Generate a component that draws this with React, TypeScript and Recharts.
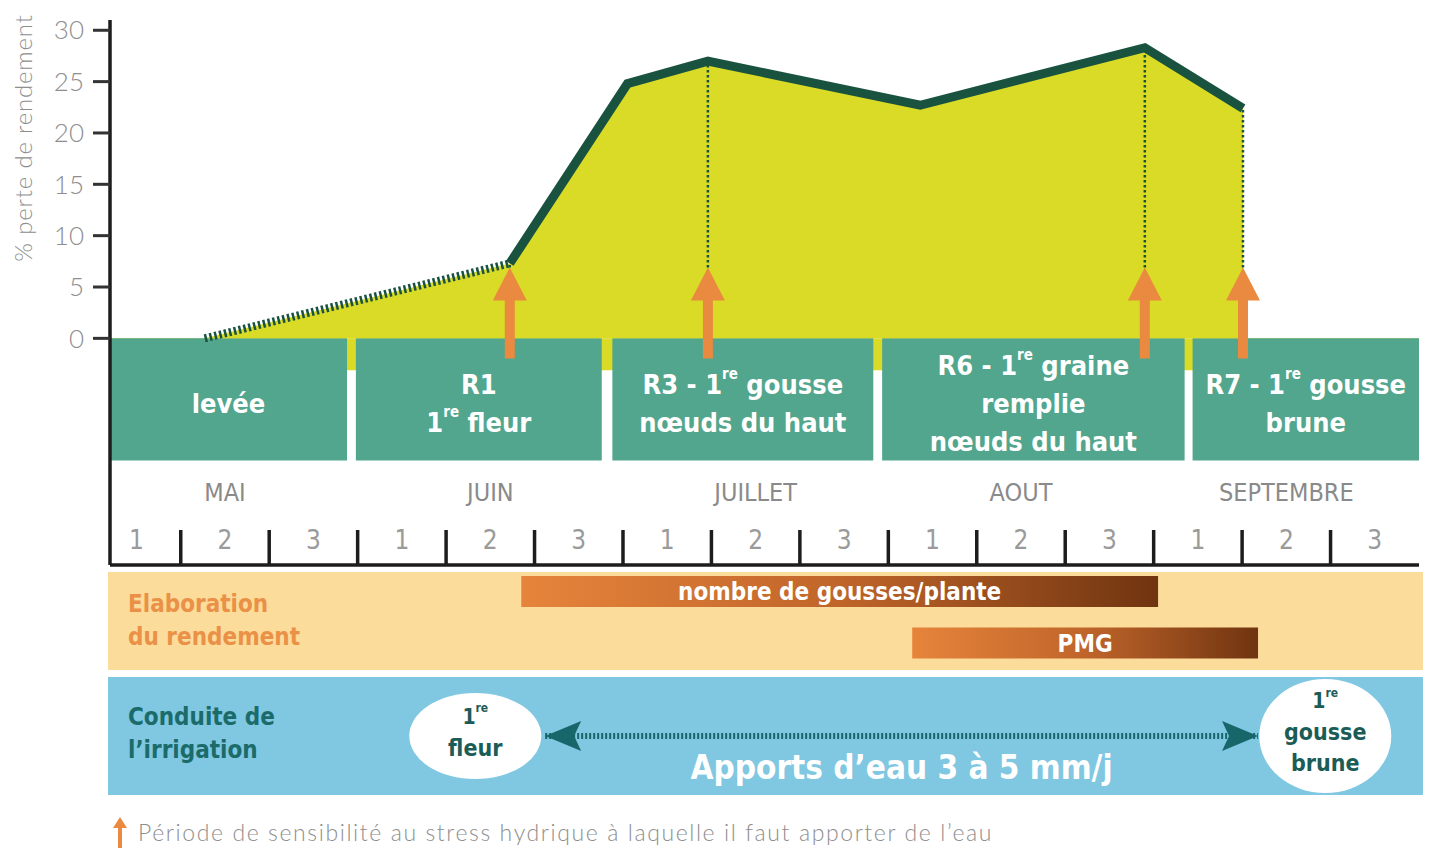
import React from "react";
import {
  Area,
  Bar,
  BarChart,
  ComposedChart,
  LabelList,
  Line,
  ReferenceArea,
  ReferenceDot,
  ReferenceLine,
  Scatter,
  XAxis,
  YAxis,
} from "recharts";

const NARROW = "'Liberation Sans Narrow', 'DejaVu Sans Condensed', Roboto, sans-serif";
const LIGHT = "Lato, 'Open Sans', sans-serif";

const DARK_GREEN = "#19533f";
const YELLOW = "#dadb26";
const TEAL = "#52a68d";
const ORANGE = "#ea8a40";
const IRRIG = "#17666a";

// x is counted in decades (10-day periods) from 1 May
const X_DOMAIN: [number, number] = [0.2, 15];
const months = ["MAI", "JUIN", "JUILLET", "AOUT", "SEPTEMBRE"];
const decades = ["1", "2", "3"];
const lossTicks = [0, 5, 10, 15, 20, 25, 30];

// yield loss curve (% perte de rendement)
const stageX = [1.27, 4.72, 6.05, 6.96, 9.36, 11.9, 13.01];
const yieldLoss = [0, 7.3, 24.8, 27, 22.7, 28.3, 22.4];
const hatchedUntil = 1; // first segment is drawn hatched
const stressPoints = [1, 3, 5, 6];
const arrowTip = 6.9;

// development stages
const phaseLabels = [
  ["levée"],
  ["R1", "1{re} fleur"],
  ["R3 - 1{re} gousse", "nœuds du haut"],
  ["R6 - 1{re} graine", "remplie", "nœuds du haut"],
  ["R7 - 1{re} gousse", "brune"],
];
const phaseStart = [0.2, 2.98, 5.88, 8.93, 12.44];
const phaseEnd = [2.88, 5.76, 8.83, 12.35, 15];

// yield components
const components = ["nombre de gousses/plante", "PMG"];
const componentStart = [4.85, 9.27];
const componentEnd = [12.05, 13.18];

// irrigation
const irrigationFrom = 5.12;
const irrigationTo = 13.18;
const irrigationText = "Apports d’eau 3 à 5 mm/j";
const irrigationMarkX = [4.33, 13.94];
const irrigationMarkLabels = [
  ["1{re}", "fleur"],
  ["1{re}", "gousse", "brune"],
];

const curve = stageX.map((x, i) => ({
  x,
  fill: yieldLoss[i],
  hatch: i <= hatchedUntil ? yieldLoss[i] : null,
  loss: i >= hatchedUntil ? yieldLoss[i] : null,
}));
const arrows = stressPoints.map((i) => ({ x: stageX[i], tip: arrowTip, top: yieldLoss[i] }));
const xTicks = Array.from({ length: 29 }, (_, i) => 0.5 + i * 0.5);
const componentRows = components.map((name, i) => ({
  name,
  span: [componentStart[i], componentEnd[i]],
}));
const irrigationLine = [
  { x: irrigationFrom, y: 0.5 },
  { x: irrigationTo, y: 0.5 },
];
const irrigationHeads = [
  { x: irrigationFrom, y: 0.5, dir: -1 },
  { x: irrigationTo, y: 0.5, dir: 1 },
];
const irrigationMarks = irrigationMarkX.map((x, i) => ({
  x,
  y: 0.5,
  lines: irrigationMarkLabels[i],
}));

// "1{re}" -> 1 + superscript re
function rich(s: string, sup: number) {
  const parts = s.split(/\{(.*?)\}/);
  const out: React.ReactNode[] = [];
  let raised = false;
  parts.forEach((p, i) => {
    if (i % 2 === 1) {
      out.push(
        <tspan key={i} fontSize={sup} dy={-sup * 0.7}>
          {p}
        </tspan>
      );
      raised = true;
    } else if (p) {
      out.push(
        <tspan key={i} dy={raised ? sup * 0.7 : 0}>
          {p}
        </tspan>
      );
      raised = false;
    }
  });
  return out;
}

const PhaseText = ({ viewBox, lines }: any) => {
  const { x, y, width, height } = viewBox;
  const cx = x + width / 2;
  const cy = y + height / 2 + 4;
  return (
    <g>
      {lines.map((l: string, i: number) => (
        <text
          key={i}
          x={cx}
          y={cy + (i - (lines.length - 1) / 2) * 38}
          textAnchor="middle"
          dominantBaseline="central"
          fill="#fff"
          fontFamily={NARROW}
          fontWeight={700}
          fontSize={27}
        >
          {rich(l, 15)}
        </text>
      ))}
    </g>
  );
};

const DecadeTick = (props: any) => {
  const { x, y, payload } = props;
  const v = payload.value;
  if (Number.isInteger(v)) {
    return <line x1={x} x2={x} y1={y - 35} y2={y} stroke="#1d1d1d" strokeWidth={3.5} />;
  }
  const k = Math.floor(v);
  return (
    <g>
      <text
        x={x}
        y={y - 25}
        textAnchor="middle"
        dominantBaseline="central"
        fill="#9a9a9a"
        fontFamily={NARROW}
        fontSize={26}
      >
        {decades[k % 3]}
      </text>
      {k % 3 === 1 && (
        <text
          x={x}
          y={y - 73}
          textAnchor="middle"
          dominantBaseline="central"
          fill="#8a8a8a"
          fontFamily={NARROW}
          fontSize={25}
        >
          {months[(k - 1) / 3]}
        </text>
      )}
    </g>
  );
};

const YTitle = (props: any) => {
  const { viewBox } = props;
  const x = viewBox.x + 22;
  const y = viewBox.y + 118;
  return (
    <text
      x={x}
      y={y}
      transform={`rotate(-90 ${x} ${y})`}
      textAnchor="middle"
      dominantBaseline="central"
      fill="#8e8e8e"
      fontFamily={LIGHT}
      fontWeight={300}
      fontSize={24}
      letterSpacing={0.8}
    >
      % perte de rendement
    </text>
  );
};

const StressArrow = (props: any) => {
  const { cx, cy } = props;
  return (
    <path
      d={`M${cx},${cy} L${cx + 17},${cy + 33} L${cx + 5},${cy + 33} L${cx + 5},${cy + 91} L${cx - 5},${cy + 91} L${cx - 5},${cy + 33} L${cx - 17},${cy + 33} Z`}
      fill={ORANGE}
    />
  );
};

const ArrowHead = (props: any) => {
  const { cx, cy, payload } = props;
  const d = payload.dir;
  return (
    <path
      d={`M${cx},${cy} L${cx - d * 36},${cy - 15} L${cx - d * 29},${cy} L${cx - d * 36},${cy + 15} Z`}
      fill={IRRIG}
    />
  );
};

const MarkBubble = (props: any) => {
  const { cx, cy, payload } = props;
  const n = payload.lines.length;
  return (
    <g>
      <ellipse cx={cx} cy={cy} rx={66} ry={14 * n + 15} fill="#fff" />
      {payload.lines.map((l: string, i: number) => (
        <text
          key={i}
          x={cx}
          y={cy - 4 + (i - (n - 1) / 2) * 31}
          textAnchor="middle"
          dominantBaseline="central"
          fill="#1c5c57"
          fontFamily={NARROW}
          fontWeight={700}
          fontSize={i === 0 ? 21 : 23}
        >
          {rich(l, 12)}
        </text>
      ))}
    </g>
  );
};

export default function App() {
  return (
    <div
      style={{
        position: "absolute",
        left: 0,
        top: 0,
        width: 1430,
        height: 850,
        background: "#fff",
        overflow: "hidden",
      }}
    >
      <div style={{ position: "absolute", left: 108, top: 572, width: 1315, height: 98, background: "#fbdc9b" }} />
      <div style={{ position: "absolute", left: 108, top: 677, width: 1315, height: 118, background: "#80c7e1" }} />
      <div
        style={{
          position: "absolute",
          left: 128,
          top: 588,
          color: "#ea9147",
          fontFamily: NARROW,
          fontWeight: 700,
          fontSize: 24,
          lineHeight: "33px",
        }}
      >
        Elaboration
        <br />
        du rendement
      </div>
      <div
        style={{
          position: "absolute",
          left: 128,
          top: 701,
          color: "#1b6b6b",
          fontFamily: NARROW,
          fontWeight: 700,
          fontSize: 24,
          lineHeight: "33px",
        }}
      >
        Conduite de
        <br />
        l’irrigation
      </div>

      <div style={{ position: "absolute", left: 0, top: 0 }}>
        <ComposedChart width={1430} height={580} data={curve} margin={{ top: 20, right: 11, bottom: 0, left: 0 }}>
          <XAxis
            type="number"
            dataKey="x"
            domain={X_DOMAIN}
            allowDataOverflow
            ticks={xTicks}
            interval={0}
            height={15}
            tickSize={0}
            tickMargin={0}
            tickLine={false}
            axisLine={{ stroke: "#1d1d1d", strokeWidth: 3.5 }}
            tick={<DecadeTick />}
          />
          <YAxis
            type="number"
            domain={[-22.07, 31]}
            allowDataOverflow
            ticks={lossTicks}
            interval={0}
            width={110}
            axisLine={{ stroke: "#1d1d1d", strokeWidth: 3.5 }}
            tickLine={{ stroke: "#333", strokeWidth: 3 }}
            tickSize={17}
            tickMargin={9}
            tick={{ fill: "#8e8e8e", fontSize: 26, fontFamily: LIGHT, fontWeight: 300 }}
            label={<YTitle />}
          />
          <ReferenceArea x1={X_DOMAIN[0]} x2={X_DOMAIN[1]} y1={-3.1} y2={0} fill={YELLOW} fillOpacity={1} stroke="none" />
          {phaseLabels.map((lines, i) => (
            <ReferenceArea
              key={i}
              x1={phaseStart[i]}
              x2={phaseEnd[i]}
              y1={-11.9}
              y2={0}
              fill={TEAL}
              fillOpacity={1}
              stroke="none"
              label={(p: any) => <PhaseText viewBox={p.viewBox} lines={lines} />}
            />
          ))}
          <Area
            type="linear"
            dataKey="fill"
            baseValue={0}
            stroke="none"
            fill={YELLOW}
            fillOpacity={1}
            isAnimationActive={false}
            activeDot={false}
          />
          <Line
            type="linear"
            dataKey="hatch"
            stroke={DARK_GREEN}
            strokeWidth={8}
            strokeDasharray="2.5 2.5"
            dot={false}
            activeDot={false}
            isAnimationActive={false}
          />
          <Line
            type="linear"
            dataKey="loss"
            stroke={DARK_GREEN}
            strokeWidth={9}
            dot={false}
            activeDot={false}
            isAnimationActive={false}
          />
          {arrows.map((a, i) => (
            <ReferenceLine
              key={i}
              segment={[
                { x: a.x, y: a.tip },
                { x: a.x, y: a.top },
              ]}
              stroke={DARK_GREEN}
              strokeWidth={2.5}
              strokeDasharray="2.5 2.5"
            />
          ))}
          <Scatter data={arrows} dataKey="tip" shape={<StressArrow />} isAnimationActive={false} />
        </ComposedChart>
      </div>

      <div style={{ position: "absolute", left: 0, top: 566 }}>
        <BarChart
          layout="vertical"
          width={1430}
          height={103}
          data={componentRows}
          margin={{ top: 0, right: 11, bottom: 0, left: 110 }}
        >
          <defs>
            <linearGradient id="brown" x1="0" y1="0" x2="1" y2="0">
              <stop offset="0%" stopColor="#e6843b" />
              <stop offset="50%" stopColor="#c0652a" />
              <stop offset="100%" stopColor="#703410" />
            </linearGradient>
          </defs>
          <XAxis type="number" domain={X_DOMAIN} allowDataOverflow hide />
          <YAxis type="category" dataKey="name" hide />
          <Bar dataKey="span" barSize={31} fill="url(#brown)" isAnimationActive={false}>
            <LabelList
              dataKey="name"
              position="center"
              fill="#fff"
              fontSize={24}
              fontWeight={700}
              fontFamily={NARROW}
            />
          </Bar>
        </BarChart>
      </div>

      <div style={{ position: "absolute", left: 0, top: 677 }}>
        <ComposedChart width={1430} height={118} margin={{ top: 0, right: 11, bottom: 0, left: 110 }}>
          <XAxis type="number" dataKey="x" domain={X_DOMAIN} allowDataOverflow hide />
          <YAxis type="number" domain={[0, 1]} hide />
          <Line
            data={irrigationLine}
            dataKey="y"
            stroke={IRRIG}
            strokeWidth={6}
            strokeDasharray="2 2"
            dot={false}
            activeDot={false}
            isAnimationActive={false}
          />
          <Scatter data={irrigationHeads} dataKey="y" shape={<ArrowHead />} isAnimationActive={false} />
          <Scatter data={irrigationMarks} dataKey="y" shape={<MarkBubble />} isAnimationActive={false} />
          <ReferenceDot
            x={(irrigationFrom + irrigationTo) / 2}
            y={0.5}
            r={0}
            fill="none"
            stroke="none"
            label={{
              value: irrigationText,
              position: "center",
              dy: 31,
              fill: "#fff",
              fontSize: 33,
              fontWeight: 700,
              fontFamily: NARROW,
            }}
          />
        </ComposedChart>
      </div>

      <div
        style={{
          position: "absolute",
          left: 112,
          top: 816,
          display: "flex",
          alignItems: "center",
          gap: 10,
          color: "#8e8e8e",
          fontFamily: LIGHT,
          fontWeight: 300,
          fontSize: 23,
          letterSpacing: 1.6,
        }}
      >
        <svg width={16} height={32}>
          <path d="M8,1 L15,12 L10,12 L10,32 L6,32 L6,12 L1,12 Z" fill={ORANGE} />
        </svg>
        <span>Période de sensibilité au stress hydrique à laquelle il faut apporter de l’eau</span>
      </div>
    </div>
  );
}
